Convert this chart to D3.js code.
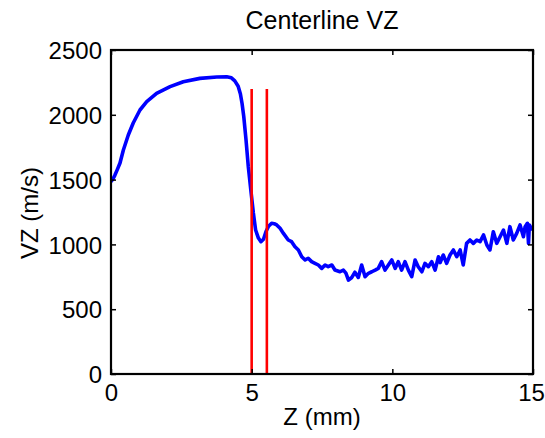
<!DOCTYPE html>
<html>
<head>
<meta charset="utf-8">
<script src="https://cdn.jsdelivr.net/npm/d3@7"></script>
<style>
  html, body { margin: 0; padding: 0; background: #fff; }
  svg text { font-family: "Liberation Sans", Arial, sans-serif; fill: #000; }
</style>
</head>
<body>
<svg id="chart" width="545" height="438"></svg>
<script>
// Data
const zValues = [0,0.07,0.14,0.22,0.32,0.44,0.615,0.79,1.03,1.27,1.62,2.1,2.57,3.16,3.76,4.11,4.28,4.4,4.52,4.6,4.66,4.72,4.8,4.88,4.97,5.06,5.14,5.24,5.33,5.42,5.51,5.6,5.71,5.8,5.89,6.01,6.13,6.3,6.42,6.54,6.66,6.78,6.9,7.01,7.13,7.25,7.37,7.49,7.61,7.72,7.85,7.96,8.14,8.26,8.35,8.44,8.56,8.67,8.79,8.91,9.03,9.15,9.27,9.39,9.5,9.62,9.74,9.86,9.98,10.1,10.21,10.33,10.45,10.57,10.69,10.81,10.92,11.05,11.16,11.28,11.4,11.52,11.64,11.7,11.81,11.93,12.05,12.17,12.29,12.41,12.52,12.64,12.76,12.88,13.0,13.12,13.24,13.36,13.47,13.59,13.71,13.83,13.95,14.07,14.18,14.3,14.42,14.54,14.66,14.72,14.8,14.84,14.87,14.95,15];
const vzValues = [1485,1505,1535,1575,1628,1728,1844,1937,2037,2101,2166,2217,2255,2281,2292,2293,2285,2262,2220,2160,2085,1985,1805,1600,1420,1242,1111,1049,1021,1040,1100,1140,1163,1160,1150,1124,1085,1034,1021,982,957,905,880,893,867,854,841,815,841,828,841,802,789,802,779,725,745,785,745,841,751,777,789,802,815,867,802,841,880,815,867,802,867,802,751,880,828,789,854,828,867,802,905,860,918,854,918,957,905,957,841,1008,1034,1008,1034,1021,1073,995,957,1098,1008,1059,1111,1008,1137,1034,1085,1150,1059,1137,1163,1008,1150,1120,1130];
const markerZ = [5.0, 5.54];
const markerTop = 2200;
const xTicks = [0, 5, 10, 15];
const yTicks = [0, 500, 1000, 1500, 2000, 2500];
const titleText = "Centerline VZ";
const xLabel = "Z (mm)";
const yLabel = "VZ (m/s)";

(function () {
const svg = d3.select("#chart");
const mLeft = 111, mRight = 533, mTop = 50, mBottom = 374;
const x = d3.scaleLinear().domain([0, 15]).range([mLeft, mRight]);
const y = d3.scaleLinear().domain([0, 2500]).range([mBottom, mTop]);

const data = zValues.map((z, i) => ({z, v: vzValues[i]}));

svg.append("defs").append("clipPath").attr("id", "clip")
  .append("rect").attr("x", mLeft).attr("y", mTop).attr("width", mRight - mLeft).attr("height", mBottom - mTop);

const plot = svg.append("g").attr("clip-path", "url(#clip)");

plot.append("path")
  .datum(data)
  .attr("fill", "none")
  .attr("stroke", "#0000ff")
  .attr("stroke-width", 3.6)
  .attr("stroke-linejoin", "round")
  .attr("d", d3.line().x(d => x(d.z)).y(d => y(d.v)));

plot.selectAll("line.marker").data(markerZ).enter().append("line")
  .attr("class", "marker")
  .attr("x1", d => x(d)).attr("x2", d => x(d))
  .attr("y1", y(0)).attr("y2", y(markerTop))
  .attr("stroke", "#ff0000").attr("stroke-width", 2.6);

const tickLen = 5;
const axisBottom = d3.axisBottom(x).tickValues(xTicks).tickSize(-tickLen).tickPadding(10).tickFormat(d3.format("d"));
const axisTop = d3.axisTop(x).tickValues(xTicks).tickSize(-tickLen).tickFormat("");
const axisLeft = d3.axisLeft(y).tickValues(yTicks).tickSize(-tickLen).tickPadding(9).tickFormat(d3.format("d"));
const axisRight = d3.axisRight(y).tickValues(yTicks).tickSize(-tickLen).tickFormat("");

function style(g) {
  g.select(".domain").remove();
  g.selectAll(".tick line").attr("stroke", "#000").attr("stroke-width", 1.5);
  g.selectAll("text").attr("font-size", 24).attr("font-family", "Liberation Sans, Arial, sans-serif").attr("fill", "#000");
}
const gb = svg.append("g").attr("transform", `translate(0,${mBottom})`).call(axisBottom).call(style);
gb.selectAll("text").attr("dy", "0.71em").attr("dx", d => d === 15 ? -2 : 0);
svg.append("g").attr("transform", `translate(0,${mTop})`).call(axisTop).call(style);
const gl = svg.append("g").attr("transform", `translate(${mLeft},0)`).call(axisLeft).call(style);
gl.selectAll("text").attr("dy", "0.36em");
svg.append("g").attr("transform", `translate(${mRight},0)`).call(axisRight).call(style);

svg.append("rect")
  .attr("x", mLeft).attr("y", mTop).attr("width", mRight - mLeft).attr("height", mBottom - mTop)
  .attr("fill", "none").attr("stroke", "#000").attr("stroke-width", 2.2);

svg.append("text").attr("x", (mLeft + mRight) / 2).attr("y", 29)
  .attr("text-anchor", "middle").attr("font-size", 25).text(titleText);
svg.append("text").attr("x", (mLeft + mRight) / 2).attr("y", 425)
  .attr("text-anchor", "middle").attr("font-size", 24).text(xLabel);
svg.append("text").attr("transform", `translate(38,213) rotate(-90)`)
  .attr("text-anchor", "middle").attr("font-size", 24).text(yLabel);
})();
</script>
</body>
</html>
